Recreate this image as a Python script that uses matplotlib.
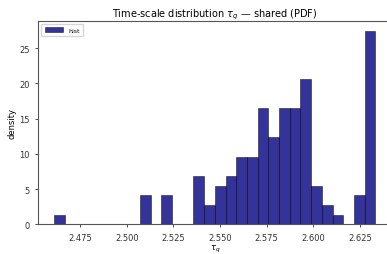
import numpy as np
import matplotlib
matplotlib.use("Agg")
import matplotlib.pyplot as plt

# histogram of tau_q: 30 equal bins between min and max, counts per bin
tau_min = 2.4612
tau_max = 2.6332
counts = [1, 0, 0, 0, 0, 0, 0, 0, 3, 0,
          3, 0, 0, 5, 2, 4, 5, 7, 7, 12,
          9, 12, 12, 15, 4, 2, 1, 0, 3, 20]
x_ticks = [2.475, 2.500, 2.525, 2.550, 2.575, 2.600, 2.625]
y_ticks = [0, 5, 10, 15, 20, 25]


def main():
    edges = np.linspace(tau_min, tau_max, len(counts) + 1)
    centers = 0.5 * (edges[:-1] + edges[1:])

    fig = plt.figure(figsize=(3.87, 2.55), dpi=100)
    ax = fig.add_axes([0.099, 0.1165, 0.9124, 0.797])
    ax.hist(centers, bins=edges, weights=counts, density=True,
            color="navy", edgecolor="black", alpha=0.8, linewidth=0.4,
            label="hist")

    ax.set_xticks(x_ticks)
    ax.set_xticklabels([f"{t:.3f}" for t in x_ticks])
    ax.set_yticks(y_ticks)
    ax.tick_params(labelsize=6, length=2.5, width=0.6, colors="#333333")
    for s in ax.spines.values():
        s.set_color("#555555")
        s.set_linewidth(0.8)
    ax.spines["right"].set_visible(False)

    ax.set_xlabel(r"$\tau_q$", fontsize=6, labelpad=1)
    ax.set_ylabel("density", fontsize=6, labelpad=2)
    ax.set_title(r"Time-scale distribution $\tau_q$ — shared (PDF)", fontsize=7, pad=3)
    ax.legend(loc="upper left", fontsize=4.5, handlelength=3, borderpad=0.5)

    fig.savefig("out.png", dpi=100)


if __name__ == "__main__":
    main()
